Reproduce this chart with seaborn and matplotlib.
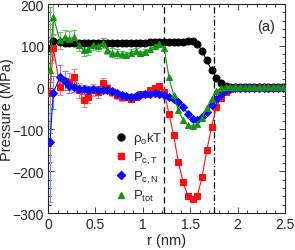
import numpy as np
import pandas as pd
import matplotlib
matplotlib.use("Agg")
import matplotlib.pyplot as plt
from matplotlib.lines import Line2D
from matplotlib.ticker import MultipleLocator, FuncFormatter
import seaborn as sns

# r grid (nm)
r = [0.02, 0.055, 0.125, 0.175, 0.225, 0.275, 0.325, 0.375, 0.425, 0.475,
     0.525, 0.575, 0.625, 0.675, 0.725, 0.775, 0.825, 0.875, 0.925, 0.975,
     1.025, 1.075, 1.125, 1.175, 1.225, 1.275, 1.325, 1.375, 1.425, 1.475,
     1.525, 1.575, 1.625, 1.675, 1.725, 1.775, 1.825, 1.875, 1.925, 1.975,
     2.025, 2.075, 2.125, 2.175, 2.225, 2.275, 2.325, 2.375, 2.425, 2.475]

rho_kt = [95, 112, 108, 107, 106, 107, 106, 107, 106, 107,
          106, 107, 107, 106, 106, 106, 107, 106, 106, 107,
          107, 108, 108, 108, 109, 109, 109, 108, 109, 111,
          112, 105, 88, 65, 42, 24, 12, 5, 2, 1,
          1, 1, 1, 1, 1, 1, 1, 1, 1, 1]

p_ct = [-12, 95, 2, 17, 14, 26, -6, -30, -22, -6,
        -10, 12, -2, -10, -18, -22, -22, -26, -22, -16,
        -14, -6, 0, 4, -10, -62, -114, -178, -226, -258,
        -266, -258, -214, -150, -94, -46, -25, -10, -3, 0,
        -1, 0, 0, 0, 0, 0, 0, 0, 0, 0]

p_cn = [-130, -12, 25, 17, 4, 2, -3, -4, -5, -4,
        -5, -6, -5, -8, -12, -18, -21, -22, -20, -18,
        -15, -14, -13, -14, -18, -22, -26, -34, -46, -62,
        -76, -78, -70, -58, -42, -26, -14, -6, -3, -2,
        -1, -1, 0, 0, 0, 0, 0, 0, 0, 0]

p_tot = [42, 169, 113, 121, 117, 121, 101, 89, 93, 101,
         100, 106, 90, 84, 82, 80, 78, 84, 88, 82,
         86, 92, 100, 104, 96, 25, -18, -54, -78, -90,
         -92, -88, -72, -48, -26, -8, 0, 2, 1, 1,
         1, 1, 1, 1, 1, 1, 1, 1, 1, 1]

# error bars (only the first 21 points carry them)
err_ct = [165, 30, 20, 22, 20, 18, 18, 16, 14, 14,
          14, 12, 10, 10, 10, 10, 8, 8, 8, 6, 6]
err_cn = [143, 40, 30, 22, 16, 12, 10, 10, 8, 8,
          6, 6, 6, 5, 5, 5, 4, 4, 4, 4, 4]
err_tot = [150, 40, 20, 18, 18, 16, 14, 14, 14, 12,
           12, 12, 10, 10, 10, 8, 8, 8, 8, 6, 6]

names = [r"ρ$_\mathrm{o}$kT", r"P$_\mathrm{c,T}$", r"P$_\mathrm{c,N}$", r"P$_\mathrm{tot}$"]
colors = ["black", "#ff1010", "#0a0aff", "#149614"]
light = [None, "#ff8080", "#8080ff", "#70c070"]
markers = ["o", "s", "D", "^"]
msizes = [5, 4.5, 3.8, 5]

sns.set_style("ticks")
plt.rcParams["font.family"] = ["Liberation Sans", "DejaVu Sans"]
plt.rcParams["mathtext.fontset"] = "custom"
plt.rcParams["mathtext.rm"] = "Liberation Sans"

fig = plt.figure(figsize=(2.95, 2.51), dpi=100)
ax = fig.add_axes([0.163, 0.147, 0.803, 0.833])

series = [rho_kt, p_ct, p_cn, p_tot]
errs = [None, err_ct, err_cn, err_tot]
n_err = len(err_ct)

for vals, err, c, lc in zip(series, errs, colors, light):
    if err is not None:
        ax.errorbar(r[:n_err], vals[:n_err], yerr=err, fmt="none",
                    ecolor=lc, elinewidth=0.8, capsize=2, capthick=0.8, zorder=1)

for vals, name, c, m, ms in zip(series, names, colors, markers, msizes):
    df = pd.DataFrame({"r": r, "p": vals})
    sns.lineplot(data=df, x="r", y="p", color=c, marker=m, markersize=ms,
                 markeredgecolor=c, linewidth=0.8, ax=ax, zorder=3)

ax.axvline(1.225, color="black", linestyle=(0, (5, 3)), linewidth=0.9)
ax.axvline(1.75, color="black", linestyle=(0, (5, 2, 1, 2)), linewidth=0.9)

ax.set_xlim(0, 2.5)
ax.set_ylim(-300, 200)
ax.xaxis.set_major_locator(MultipleLocator(0.5))
ax.xaxis.set_minor_locator(MultipleLocator(0.1))
ax.yaxis.set_major_locator(MultipleLocator(100))
ax.yaxis.set_minor_locator(MultipleLocator(20))
ax.xaxis.set_major_formatter(FuncFormatter(lambda v, p: f"{v:g}"))
ax.tick_params(which="both", direction="in", top=True, right=True, labelsize=10)
ax.tick_params(which="major", length=4, width=0.6, pad=3)
ax.tick_params(which="minor", length=2, width=0.6)
for s in ax.spines.values():
    s.set_linewidth(0.8)
ax.set_xlabel("r (nm)", fontsize=10.5, labelpad=1)
ax.set_ylabel("Pressure (MPa)", fontsize=10.5, labelpad=-1)

handles = [Line2D([], [], linestyle="none", marker=m, color=c, markersize=ms)
           for m, c, ms in zip(markers, colors, msizes)]
ax.legend(handles, names, loc="lower left", bbox_to_anchor=(0.225, -0.01),
          frameon=False, fontsize=9.5, handletextpad=0.3, labelspacing=0.25,
          handlelength=1.2)
ax.text(0.96, 0.93, "(a)", transform=ax.transAxes, ha="right", va="top", fontsize=10.5)

fig.savefig("out.png", dpi=100)
